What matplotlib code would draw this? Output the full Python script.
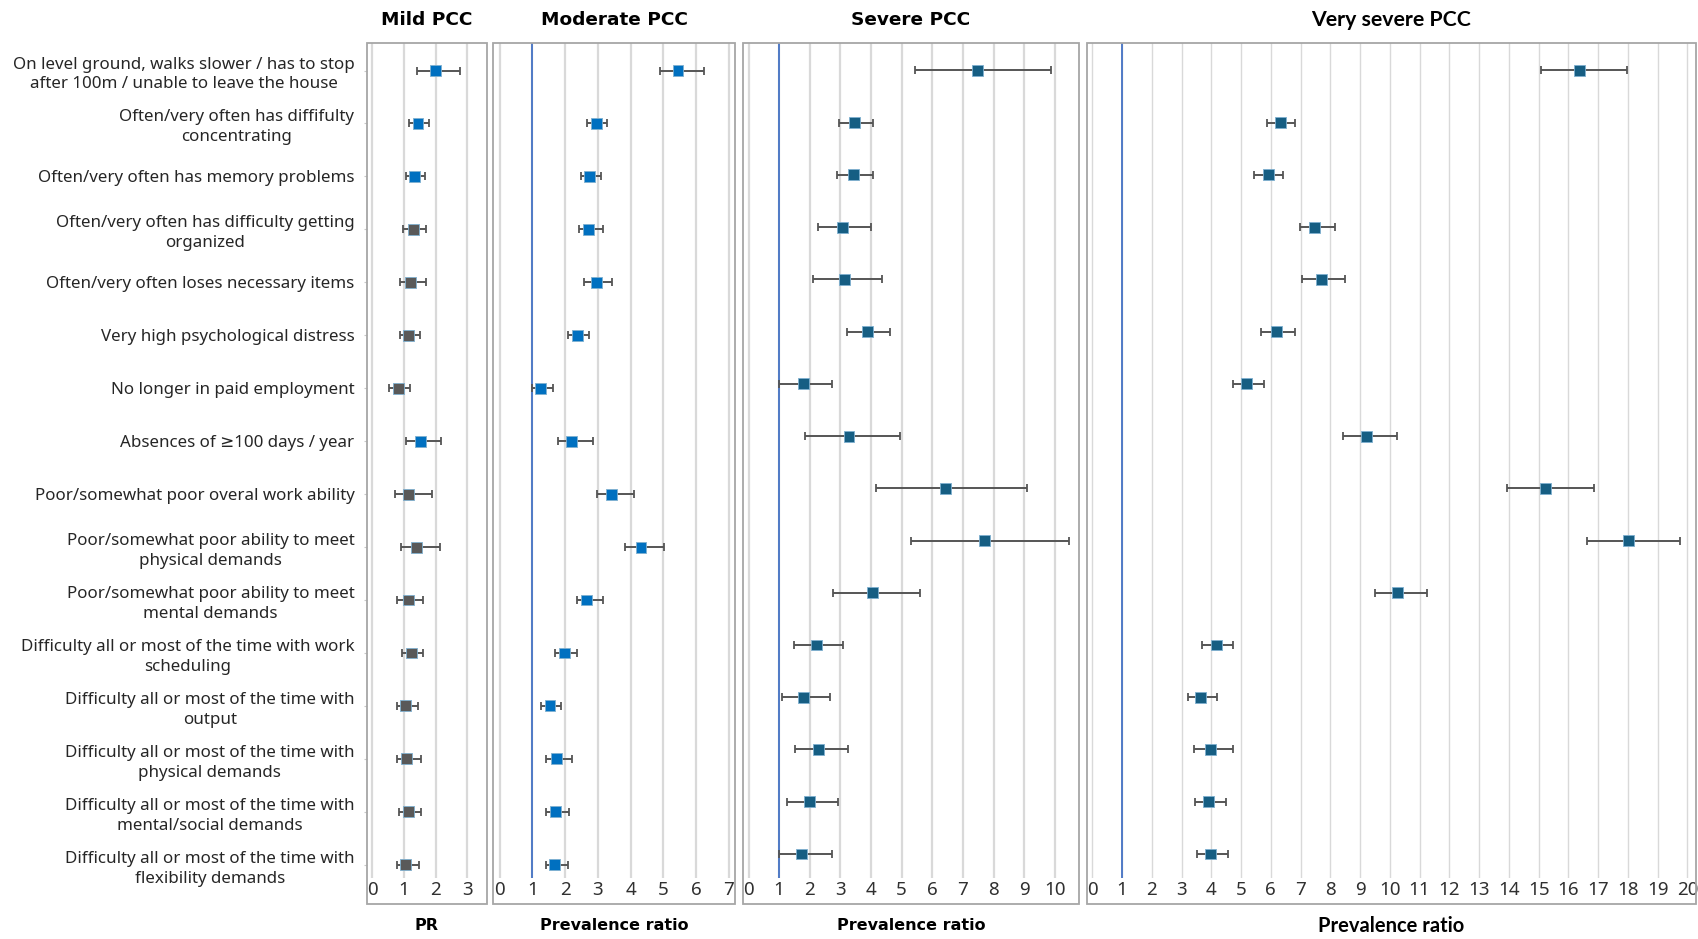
import numpy as np
import matplotlib
matplotlib.use('Agg')
import matplotlib.pyplot as plt
from matplotlib.patches import Rectangle

plt.rcParams['font.family'] = ['Noto Sans', 'DejaVu Sans']

# outcome labels, top to bottom
labels = [
    "On level ground, walks slower / has to stop\nafter 100m / unable to leave the house",
    "Often/very often has diffifulty\nconcentrating",
    "Often/very often has memory problems",
    "Often/very often has difficulty getting\norganized",
    "Often/very often loses necessary items",
    "Very high psychological distress",
    "No longer in paid employment",
    "Absences of \u2265100 days / year",
    "Poor/somewhat poor overal work ability",
    "Poor/somewhat poor ability to meet\nphysical demands",
    "Poor/somewhat poor ability to meet\nmental demands",
    "Difficulty all or most of the time with work\nscheduling",
    "Difficulty all or most of the time with\noutput",
    "Difficulty all or most of the time with\nphysical demands",
    "Difficulty all or most of the time with\nmental/social demands",
    "Difficulty all or most of the time with\nflexibility demands",
]

# prevalence ratios and 95% CI per severity group
mild_pr = [1.99, 1.44, 1.33, 1.31, 1.21, 1.15, 0.83, 1.53, 1.15, 1.38, 1.13, 1.23, 1.06, 1.09, 1.15, 1.06]
mild_lo = [1.42, 1.16, 1.05, 0.98, 0.87, 0.87, 0.54, 1.06, 0.72, 0.89, 0.77, 0.92, 0.79, 0.77, 0.85, 0.79]
mild_hi = [2.77, 1.78, 1.65, 1.69, 1.69, 1.51, 1.19, 2.16, 1.87, 2.12, 1.61, 1.61, 1.43, 1.55, 1.54, 1.46]
mild_sig = [True, True, True, False, False, False, False, True,
            False, False, False, False, False, False, False, False]

mod_pr = [5.45, 2.95, 2.76, 2.72, 2.95, 2.38, 1.26, 2.21, 3.43, 4.32, 2.66, 1.99, 1.54, 1.74, 1.72, 1.69]
mod_lo = [4.91, 2.68, 2.48, 2.43, 2.59, 2.10, 0.99, 1.78, 2.99, 3.82, 2.36, 1.68, 1.28, 1.42, 1.42, 1.42]
mod_hi = [6.23, 3.29, 3.09, 3.15, 3.43, 2.74, 1.62, 2.85, 4.12, 5.01, 3.17, 2.36, 1.89, 2.21, 2.11, 2.09]

sev_pr = [7.49, 3.47, 3.44, 3.08, 3.13, 3.87, 1.79, 3.28, 6.42, 7.71, 4.06, 2.21, 1.79, 2.30, 1.99, 1.73]
sev_lo = [5.45, 2.94, 2.88, 2.28, 2.10, 3.23, 1.00, 1.85, 4.16, 5.32, 2.76, 1.47, 1.09, 1.51, 1.26, 0.99]
sev_hi = [9.86, 4.07, 4.07, 3.99, 4.35, 4.63, 2.72, 4.95, 9.08, 10.45, 5.59, 3.09, 2.67, 3.26, 2.92, 2.72]

vsev_pr = [16.38, 6.32, 5.91, 7.48, 7.69, 6.19, 5.17, 9.21, 15.23, 18.02, 10.27, 4.16, 3.65, 3.97, 3.90, 3.97]
vsev_lo = [15.08, 5.87, 5.42, 6.97, 7.05, 5.67, 4.72, 8.42, 13.95, 16.62, 9.50, 3.70, 3.23, 3.41, 3.46, 3.52]
vsev_hi = [17.98, 6.82, 6.41, 8.14, 8.50, 6.82, 5.78, 10.23, 16.85, 19.76, 11.25, 4.73, 4.18, 4.73, 4.49, 4.55]

titles = ["Mild PCC", "Moderate PCC", "Severe PCC", "Very severe PCC"]
xtitles = ["PR", "Prevalence ratio", "Prevalence ratio", "Prevalence ratio"]

W, H = 1699, 939
fig = plt.figure(figsize=(W / 100, H / 100), dpi=100)

BLUE = '#0070c0'
GREY = '#595959'
TEAL = '#165e83'

# panel geometry in pixels: frame left/right, xlim, last tick, row ylim
panels = [
    dict(l=367, r=487, xlim=(-0.17, 3.62), nt=3, ylim=(15.25, -0.52), ref=False, glw=1.6),
    dict(l=493, r=735, xlim=(-0.20, 7.19), nt=7, ylim=(15.25, -0.52), ref=True, glw=1.6),
    dict(l=743, r=1079, xlim=(-0.18, 10.79), nt=10, ylim=(15.46, -0.525), ref=True, glw=1.6),
    dict(l=1087, r=1696, xlim=(-0.18, 20.29), nt=20, ylim=(15.46, -0.525), ref=True, glw=1.0),
]
data = [
    (mild_pr, mild_lo, mild_hi, [BLUE if s else GREY for s in mild_sig]),
    (mod_pr, mod_lo, mod_hi, [BLUE] * 16),
    (sev_pr, sev_lo, sev_hi, [TEAL] * 16),
    (vsev_pr, vsev_lo, vsev_hi, [TEAL] * 16),
]

top_px, grid_bot_px, frame_bot_px = 43, 878, 904
y = np.arange(len(labels))

for i, (p, (pr, lo, hi, cols)) in enumerate(zip(panels, data)):
    ax = fig.add_axes([p['l'] / W, 1 - grid_bot_px / H,
                       (p['r'] - p['l']) / W, (grid_bot_px - top_px) / H])
    pr, lo, hi = np.array(pr), np.array(lo), np.array(hi)
    ax.errorbar(pr, y, xerr=[pr - lo, hi - pr], fmt='none', ecolor='#555555',
                elinewidth=1.4, capsize=3.2, capthick=1.3, zorder=2)
    ax.scatter(pr, y, marker='s', s=62, c=cols, edgecolors='#7fb0d0',
               linewidths=0.6, zorder=3)
    if p['ref']:
        ax.axvline(1, color='#4472c4', lw=1.3, zorder=1)
    ax.set_xlim(*p['xlim'])
    ax.set_ylim(*p['ylim'])
    ax.set_xticks(range(0, p['nt'] + 1))
    ax.grid(axis='x', color='#d9d9d9', lw=p['glw'])
    ax.set_axisbelow(True)
    for s in ax.spines.values():
        s.set_visible(False)
    ax.tick_params(axis='x', length=0, pad=2, labelsize=13.5, labelcolor='#303030')
    if i == 0:
        ax.set_yticks(y)
        ax.set_yticklabels(labels, fontsize=12.2, color='#262626',
                           multialignment='center', linespacing=1.33)
        ax.tick_params(axis='y', length=2, width=0.8, color='#c8c8c8', pad=7)
    else:
        ax.set_yticks([])

    # outer frame around panel incl. tick labels
    fig.add_artist(Rectangle((p['l'] / W, 1 - frame_bot_px / H),
                             (p['r'] - p['l']) / W, (frame_bot_px - top_px) / H,
                             transform=fig.transFigure, fill=False,
                             edgecolor='#a6a6a6', lw=1.3))
    cx = (p['l'] + p['r']) / 2 / W
    if i < 3:
        fig.text(cx, 1 - 20 / H, titles[i], ha='center', va='center',
                 fontsize=13.3, fontweight='bold', family='DejaVu Sans')
        fig.text(cx, 1 - 926 / H, xtitles[i], ha='center', va='center',
                 fontsize=11.5, fontweight='bold', family='DejaVu Sans')
    else:
        fig.text(cx, 1 - 20 / H, titles[i], ha='center', va='center',
                 fontsize=15.3, fontweight='bold', family='Lato')
        fig.text(cx, 1 - 926 / H, xtitles[i], ha='center', va='center',
                 fontsize=14.5, fontweight='bold', family='Lato')

fig.savefig('out.png', dpi=100, facecolor='white')
